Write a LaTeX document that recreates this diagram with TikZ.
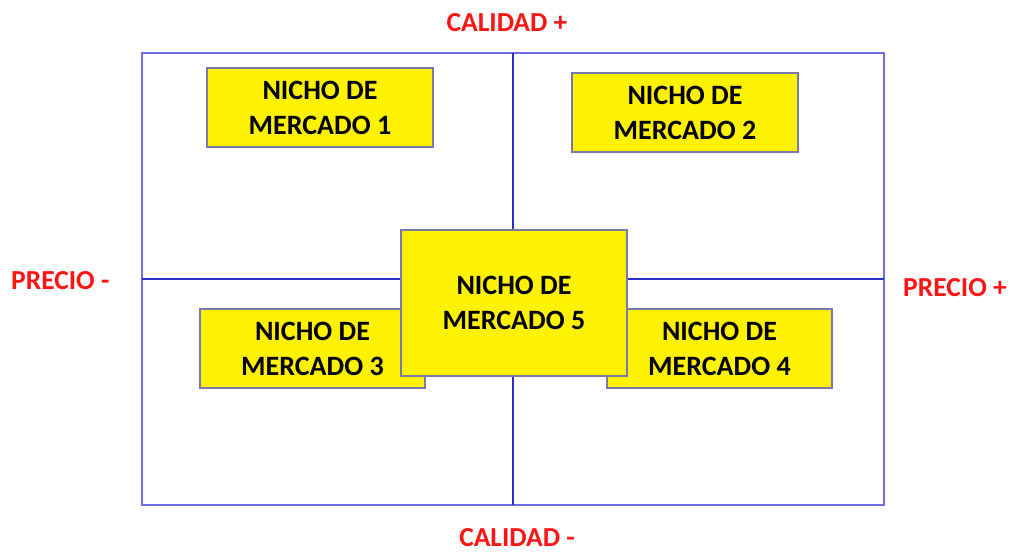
\documentclass[tikz,border=0pt]{standalone}
\usepackage{fontspec}
\setmainfont{Carlito}
\definecolor{frameblue}{RGB}{110,110,225}
\definecolor{axisblue}{RGB}{45,45,210}
\definecolor{boxedge}{RGB}{120,120,170}
\definecolor{lblred}{RGB}{255,20,20}
\begin{document}
\begin{tikzpicture}[x=1pt,y=-1pt,
  nicho/.style={draw=boxedge,line width=1.3pt,fill=yellow,font=\fontsize{28}{35}\selectfont\bfseries,align=center,inner sep=0pt},
  lbl/.style={text=lblred,font=\fontsize{27.5}{30}\selectfont\bfseries,inner sep=0pt,anchor=base},
  frm/.style={draw=frameblue,line width=1.3pt},
  axis/.style={draw=axisblue,line width=2.2pt}]
\useasboundingbox (0,0) rectangle (1024,552);
\draw[frm] (142,53) rectangle (884,505);
\coordinate (vt) at (513,53);
\coordinate (vb) at (513,505);
\coordinate (hl) at (142,279);
\coordinate (hr) at (884,279);
\draw[axis] (vt) -- (vb);
\draw[axis] (hl) -- (hr);
\node[nicho,minimum width=226pt,minimum height=79pt] (n1) at (320,107.5) {NICHO DE\\MERCADO 1};
\node[nicho,minimum width=226pt,minimum height=79pt] (n2) at (685,112.5) {NICHO DE\\MERCADO 2};
\node[nicho,minimum width=225pt,minimum height=79pt] (n3) at (312.5,348.5) {NICHO DE\\MERCADO 3};
\node[nicho,minimum width=225pt,minimum height=79pt] (n4) at (719.5,348.5) {NICHO DE\\MERCADO 4};
\node[nicho,minimum width=226pt,minimum height=146pt] (n5) at (514,303) {NICHO DE\\MERCADO 5};
\node[lbl] (cq) at (507,31) {CALIDAD +};
\node[lbl] (cm) at (517,546) {CALIDAD -};
\node[lbl,anchor=base west] (pm) at (11,289) {PRECIO -};
\node[lbl,anchor=base west] (pp) at (903,296) {PRECIO +};
\end{tikzpicture}
\end{document}
